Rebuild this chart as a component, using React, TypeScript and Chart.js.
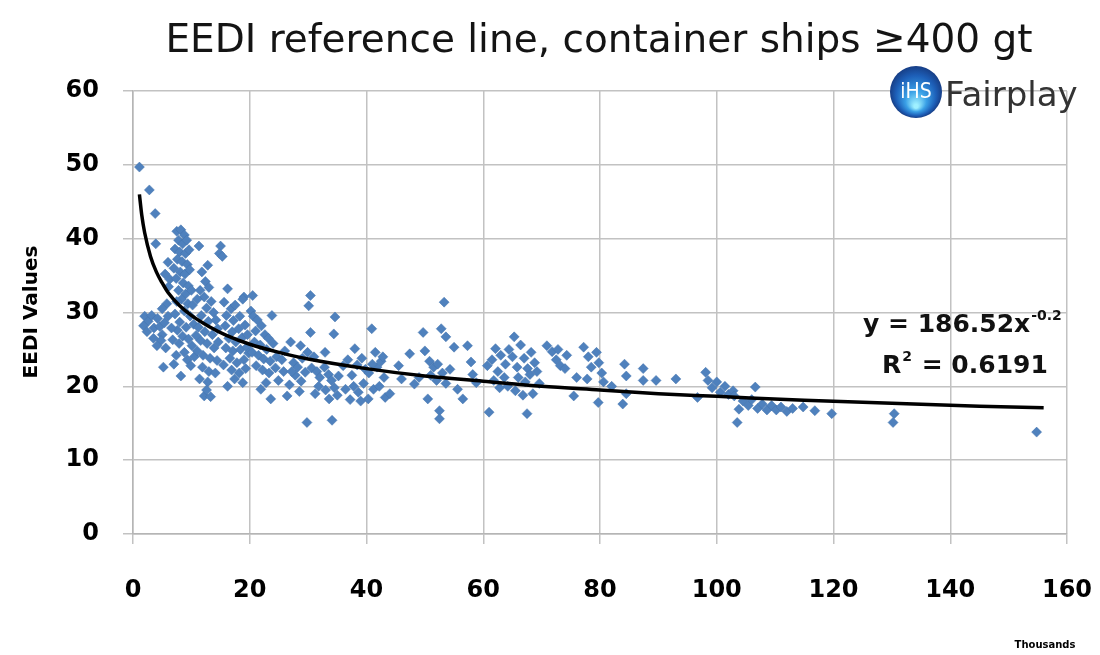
import React, { useEffect, useRef } from 'react';
import { Chart, registerables } from 'chart.js';

Chart.register(...registerables);

// Gross tonnage in thousands, EEDI value
const feederPts: [number, number][] = [
  [1.1, 49.7], [2.8, 46.6], [3.8, 43.4], [3.9, 39.3], [2.0, 29.5], [2.6, 28.8], [3.2, 29.6], [3.6, 27.9],
  [4.2, 29.2], [4.6, 28.1], [1.8, 28.2], [2.4, 27.4], [5.0, 27.0], [5.4, 28.6], [4.8, 26.2], [4.1, 25.5],
  [5.6, 25.2], [5.2, 22.6], [3.5, 26.5], [6.0, 29.5], [5.8, 31.2], [6.1, 33.5], [5.5, 35.2], [6.0, 36.8],
  [6.3, 34.5], [5.0, 30.5],
];

const smallPts: [number, number][] = [
  [7.5, 41.0], [8.2, 41.2], [8.8, 40.5], [7.8, 39.8], [8.5, 39.3], [9.2, 39.8], [7.2, 38.6], [8.0, 38.2],
  [9.0, 38.0], [9.6, 38.5], [7.6, 37.2], [8.4, 36.9], [9.3, 36.5], [7.0, 36.0], [8.1, 35.5], [8.9, 35.2],
  [9.7, 35.8], [7.4, 34.6], [8.6, 34.0], [9.5, 33.6], [7.8, 33.0], [9.0, 32.5], [10.0, 33.0], [8.3, 31.8],
  [9.4, 31.2], [7.5, 31.5], [10.2, 31.0], [8.8, 30.2], [7.2, 29.8], [9.8, 29.5], [8.0, 28.7], [9.1, 28.0],
  [7.6, 27.6], [10.4, 28.4], [8.5, 26.8], [9.5, 26.4], [7.9, 25.8], [10.1, 25.5], [8.8, 24.6], [9.3, 23.6],
  [7.4, 24.2], [6.8, 26.3], [6.6, 27.9], [7.0, 23.0], [8.2, 21.4], [9.9, 22.8], [10.5, 24.0],
];

const mediumPts: [number, number][] = [
  [11.3, 39.0], [12.8, 36.4], [11.8, 35.5], [12.4, 34.2], [13.0, 33.4], [11.5, 33.0], [12.2, 32.1], [13.4, 31.5],
  [11.0, 31.8], [12.6, 30.6], [13.8, 30.0], [11.7, 29.6], [12.9, 28.8], [14.2, 29.0], [11.2, 28.0], [12.3, 27.4],
  [13.6, 27.0], [14.5, 27.8], [11.6, 26.2], [12.7, 25.8], [13.9, 25.2], [14.6, 26.0], [11.0, 24.8], [12.0, 24.2],
  [13.2, 23.8], [14.4, 23.5], [11.9, 22.6], [13.0, 22.0], [14.1, 21.8], [12.8, 20.6], [12.2, 18.7], [13.3, 18.6],
  [12.6, 19.5], [15.0, 39.0], [14.8, 38.0], [15.3, 37.6], [10.8, 26.9], [11.4, 21.0],
  [16.2, 33.2], [19.0, 32.1], [18.8, 31.8], [15.6, 31.4], [16.8, 30.5], [17.5, 31.0], [16.0, 29.6], [17.2, 28.9],
  [18.3, 29.5], [15.8, 28.2], [17.0, 27.4], [18.1, 27.8], [19.2, 28.3], [16.4, 26.5], [17.6, 26.0], [18.7, 26.6],
  [19.6, 27.0], [15.9, 25.2], [17.1, 24.8], [18.4, 25.0], [19.5, 25.3], [16.6, 23.8], [17.8, 23.2], [19.0, 23.6],
  [15.5, 22.9], [16.9, 22.2], [18.2, 21.8], [19.3, 22.4], [17.4, 21.0], [18.8, 20.5], [16.2, 20.0], [19.8, 24.5],
  [20.5, 32.3], [20.2, 30.2],
];

const panamaxPts: [number, number][] = [
  [20.6, 29.5], [21.3, 29.0], [22.0, 28.2], [23.8, 29.6], [21.0, 27.5], [22.6, 27.0], [23.2, 26.5], [20.8, 26.0],
  [21.8, 25.6], [22.9, 25.0], [24.0, 25.8], [20.4, 24.6], [21.5, 24.2], [22.4, 23.7], [23.5, 23.4], [24.6, 24.0],
  [25.5, 23.6], [21.1, 22.8], [22.2, 22.2], [23.3, 21.8], [24.4, 22.5], [25.8, 22.0], [21.9, 19.6], [23.6, 18.3],
  [22.8, 20.5], [24.9, 20.8], [26.4, 18.7], [26.0, 24.8], [27.0, 26.0], [28.7, 25.5], [27.5, 23.2], [28.2, 22.6],
  [29.0, 23.8], [27.8, 21.5], [28.8, 20.7], [29.5, 21.9], [26.8, 20.2], [28.5, 19.3], [29.8, 15.1], [27.2, 22.0],
  [29.9, 24.6],
  [30.4, 32.3], [30.1, 30.9], [30.4, 27.3], [34.6, 29.4], [34.4, 27.1], [32.9, 24.6], [31.0, 24.0], [30.6, 22.5],
  [31.5, 22.0], [32.0, 21.2], [32.8, 22.6], [33.5, 21.6], [34.0, 20.8], [31.8, 20.0], [33.0, 19.5], [34.5, 19.8],
  [35.2, 21.4], [35.0, 18.8], [33.6, 18.3], [34.1, 15.4], [31.2, 19.0], [36.0, 22.8], [36.8, 23.6], [38.0, 25.1],
  [37.5, 21.5], [38.4, 22.9], [39.2, 23.8], [39.8, 22.3], [40.9, 27.8], [41.5, 24.6], [40.4, 21.8], [41.8, 22.6],
  [42.5, 23.4], [43.0, 21.2], [37.8, 20.0], [38.6, 19.2], [39.5, 20.4], [40.3, 18.3], [41.2, 19.6], [42.2, 20.0],
  [43.2, 18.5], [36.4, 19.6], [37.2, 18.2], [44.0, 19.0], [42.8, 24.0], [39.0, 18.0], [41.0, 23.0],
];

const postPanamaxPts: [number, number][] = [
  [47.4, 24.4], [48.2, 20.3], [49.7, 27.3], [50.0, 24.8], [50.5, 18.3], [50.8, 23.4], [51.5, 22.6], [52.2, 23.0],
  [53.0, 21.8], [51.0, 21.5], [52.0, 20.8], [53.6, 20.4], [54.3, 22.3], [52.8, 27.8], [53.6, 26.7], [53.3, 31.4],
  [52.5, 16.7], [52.5, 15.6], [55.0, 25.3], [57.3, 25.5], [57.9, 23.3], [55.6, 19.6], [56.5, 18.3], [58.2, 21.6],
  [58.8, 20.5], [46.0, 21.0], [45.5, 22.8], [49.0, 21.2],
  [61.0, 16.5], [62.1, 25.1], [65.3, 26.7], [60.7, 22.8], [61.5, 23.6], [62.5, 22.0], [63.0, 24.2], [63.8, 23.0],
  [64.4, 25.0], [65.0, 24.0], [65.8, 22.6], [66.4, 25.6], [67.0, 23.8], [67.6, 22.4], [68.2, 24.6], [68.8, 23.2],
  [66.0, 21.2], [67.2, 20.6], [68.0, 21.6], [69.2, 22.0], [64.2, 20.0], [65.5, 19.4], [66.8, 18.8], [68.5, 19.0],
  [62.8, 19.8], [67.5, 16.3], [70.9, 25.5], [69.6, 20.4], [63.6, 21.2], [61.8, 20.8],
];

const largePts: [number, number][] = [
  [71.8, 24.7], [72.5, 23.6], [73.2, 22.8], [74.3, 24.2], [72.8, 25.0], [74.0, 22.4], [77.2, 25.3], [78.0, 24.0],
  [79.4, 24.6], [78.5, 22.6], [79.8, 23.2], [80.3, 21.8], [77.8, 21.0], [80.6, 20.6], [75.5, 18.7], [79.7, 17.8],
  [84.2, 23.0], [84.5, 21.4], [87.4, 22.4], [87.4, 20.8], [89.6, 20.8], [84.5, 19.0], [83.9, 17.6], [93.0, 21.0],
  [82.0, 20.0], [76.0, 21.2],
  [98.1, 21.9], [98.5, 20.8], [99.2, 19.8], [100.0, 20.6], [100.6, 19.2], [101.4, 20.0], [102.0, 18.9], [102.8, 19.4],
  [103.0, 18.7], [96.7, 18.5], [103.8, 16.9], [103.5, 15.1], [106.6, 19.9], [104.5, 18.0], [105.4, 17.4], [106.0, 18.2],
  [107.0, 17.0], [107.8, 17.6], [108.6, 16.8], [109.4, 17.4], [110.2, 16.8], [111.0, 17.2], [112.0, 16.6], [113.0, 17.0],
  [114.8, 17.2], [116.8, 16.7], [119.7, 16.3], [130.4, 16.3], [130.2, 15.1], [154.8, 13.8],
];

// Reference (trend) line
const trendX = [1.1, 1.5, 2, 3, 4, 5, 6, 8, 10, 13, 16, 20, 25, 30, 40, 50, 60, 70, 80, 90, 100, 115, 130, 145, 156];
const trendY = [46.0, 43.2, 40.8, 37.6, 35.5, 34.0, 32.7, 30.9, 29.6, 28.1, 26.9, 25.7, 24.6, 23.7, 22.4, 21.4, 20.7, 20.0, 19.5, 19.0, 18.65, 18.1, 17.7, 17.3, 17.1];

const titleText = 'EEDI reference line, container ships \u2265400 gt';
const yTitle = 'EEDI Values';
const xUnit = 'Thousands';
const eqMain = 'y = 186.52x';
const eqExp = '-0.2';
const r2Value = ' = 0.6191';

export default function App() {
  const ref = useRef<HTMLCanvasElement>(null);

  useEffect(() => {
    const canvas = ref.current;
    if (!canvas) return;
    const pts = [...feederPts, ...smallPts, ...mediumPts, ...panamaxPts, ...postPanamaxPts, ...largePts].map(
      ([x, y]) => ({ x, y })
    );
    const trend = trendX.map((x, i) => ({ x, y: trendY[i] }));

    const textPlugin = {
      id: 'textPlugin',
      afterDraw(chart: any) {
        const ctx = chart.ctx as CanvasRenderingContext2D;
        ctx.save();
        // title
        ctx.fillStyle = '#141414';
        ctx.font = '39px "DejaVu Sans"';
        ctx.textAlign = 'center';
        ctx.textBaseline = 'alphabetic';
        ctx.fillText(titleText, 599, 52);

        // y title
        ctx.save();
        ctx.translate(32, 312);
        ctx.rotate(-Math.PI / 2);
        ctx.font = 'bold 20px "DejaVu Sans"';
        ctx.fillStyle = '#000';
        ctx.textAlign = 'center';
        ctx.textBaseline = 'middle';
        ctx.fillText(yTitle, 0, 0);
        ctx.restore();

        // units
        ctx.font = 'bold 10px "DejaVu Sans"';
        ctx.fillStyle = '#000';
        ctx.textAlign = 'center';
        ctx.textBaseline = 'middle';
        ctx.fillText(xUnit, 1045, 645);

        // equation
        ctx.textAlign = 'left';
        ctx.textBaseline = 'alphabetic';
        ctx.fillStyle = '#111';
        ctx.font = 'bold 25px "DejaVu Sans"';
        ctx.fillText(eqMain, 863, 332);
        const w1 = ctx.measureText(eqMain).width;
        ctx.font = 'bold 14px "DejaVu Sans"';
        ctx.fillText(eqExp, 863 + w1 + 1, 320);
        ctx.font = 'bold 25px "DejaVu Sans"';
        ctx.fillText('R', 882, 373);
        const wr = ctx.measureText('R').width;
        ctx.font = 'bold 14px "DejaVu Sans"';
        ctx.fillText('2', 882 + wr + 1, 361);
        const w2 = ctx.measureText('2').width;
        ctx.font = 'bold 25px "DejaVu Sans"';
        ctx.fillText(r2Value, 882 + wr + w2 + 2, 373);

        // logo
        const cx = 916, cy = 92, r = 26;
        const g = ctx.createRadialGradient(cx, cy + r * 0.55, 2, cx, cy, r);
        g.addColorStop(0, '#9ff0ff');
        g.addColorStop(0.35, '#3aa0e6');
        g.addColorStop(0.75, '#1d5fb8');
        g.addColorStop(1, '#173e86');
        ctx.beginPath();
        ctx.arc(cx, cy, r, 0, Math.PI * 2);
        ctx.fillStyle = g;
        ctx.fill();
        ctx.fillStyle = '#ffffff';
        ctx.font = '21px "DejaVu Sans Condensed", "DejaVu Sans"';
        ctx.textAlign = 'center';
        ctx.textBaseline = 'middle';
        ctx.fillText('iHS', cx, cy + 1);
        ctx.fillStyle = '#333';
        ctx.textAlign = 'left';
        ctx.font = '34px "DejaVu Sans"';
        ctx.fillText('Fairplay', 945, 97);
        ctx.restore();
      },
    };

    const tickFont = { family: 'DejaVu Sans', weight: 'bold' as const, size: 24 };
    const chart = new Chart(canvas, {
      type: 'scatter',
      data: {
        datasets: [
          {
            type: 'line',
            data: trend,
            borderColor: '#000',
            borderWidth: 3.5,
            pointRadius: 0,
            fill: false,
            cubicInterpolationMode: 'monotone',
            order: 0,
          } as any,
          {
            data: pts,
            pointStyle: 'rectRot',
            pointRadius: 5,
            backgroundColor: '#4f81bd',
            borderColor: '#4273ad',
            borderWidth: 0.5,
            order: 1,
          },
        ],
      },
      options: {
        responsive: false,
        animation: false,
        devicePixelRatio: 1,
        layout: { padding: { top: 91, right: 33, left: 0, bottom: 0 } },
        plugins: { legend: { display: false }, tooltip: { enabled: false }, title: { display: false } },
        scales: {
          x: {
            type: 'linear',
            min: 0,
            max: 160,
            afterFit: (s: any) => {
              s.height = 121;
              s.paddingLeft = 0;
              s.paddingRight = 0;
            },
            ticks: { stepSize: 20, font: tickFont, color: '#000', padding: 32, maxRotation: 0 },
            grid: { color: '#c2c2c2', lineWidth: 1.5, tickLength: 10 },
            border: { color: '#b5b5b5', width: 1.5 },
          },
          y: {
            min: 0,
            max: 60,
            afterFit: (s: any) => {
              s.width = 133;
              s.paddingTop = 0;
              s.paddingBottom = 0;
            },
            ticks: { stepSize: 10, font: tickFont, color: '#000', padding: 24 },
            grid: { color: '#c2c2c2', lineWidth: 1.5, tickLength: 10 },
            border: { color: '#b5b5b5', width: 1.5 },
          },
        },
      },
      plugins: [textPlugin],
    });
    return () => chart.destroy();
  }, []);

  return (
    <div style={{ position: 'fixed', left: 0, top: 0, width: 1100, height: 655, background: '#fff' }}>
      <canvas ref={ref} width={1100} height={655} style={{ display: 'block' }} />
    </div>
  );
}
